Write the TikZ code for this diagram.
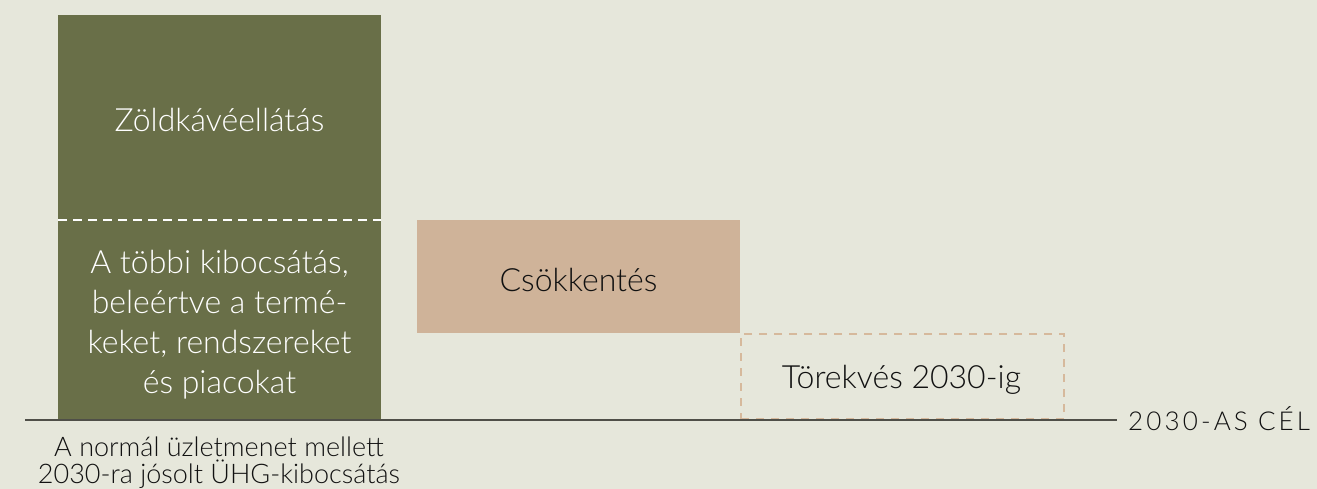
\documentclass[tikz,border=0pt]{standalone}
\usepackage{fontspec}
\setmainfont{Lato}[UprightFont=* Light]
\newfontfamily\spacedfont{Lato}[UprightFont=* Light, LetterSpace=12]
\definecolor{bgc}{HTML}{E6E7DB}
\definecolor{olive}{HTML}{696F48}
\definecolor{tan}{HTML}{CFB399}
\definecolor{tanline}{HTML}{D6B99C}
\definecolor{axis}{HTML}{4F4F48}
\definecolor{ink}{HTML}{111111}
\tikzset{
  bar/.style={rectangle, inner sep=0pt, anchor=north west},
  big/.style={font=\fontsize{32}{40}\selectfont, inner sep=0pt},
  small/.style={font=\fontsize{27}{27}\selectfont, inner sep=0pt, text=ink},
}
\begin{document}
\begin{tikzpicture}[x=1pt,y=-1pt]
\useasboundingbox (0,0) rectangle (1317,489);
\fill[bgc] (0,0) rectangle (1317,489);
% bars
\node[bar, fill=olive, minimum width=323pt, minimum height=405pt] (gbox) at (58,15) {};
\node[bar, fill=tan, minimum width=323pt, minimum height=113pt] (tbox) at (417,220) {};
\node[bar, draw=tanline, line width=2pt, dash pattern=on 8pt off 7pt, minimum width=323pt, minimum height=85pt] (dbox) at (740,333) {};
% divider
\coordinate (dl) at (58,220);
\coordinate (dr) at (381,220);
\draw[white, line width=2pt, dash pattern=on 9pt off 6pt] (dl) -- (dr);
% axis
\coordinate (al) at (25,420);
\coordinate (ar) at (1117,420);
\draw[axis, line width=2.8pt] (al) -- (ar);
% texts
\node[big, text=white, anchor=base] (t1) at (219.5,132) {Zöldkávéellátás};
\node[big, text=white, anchor=base, align=center] (t2) at (219.5,393) {A többi kibocsátás,\\beleértve a termé-\\keket, rendszereket\\és piacokat};
\node[big, text=ink, anchor=base] (t3) at (578.5,291) {Csökkentés};
\node[big, text=ink, anchor=base] (t4) at (901.5,388) {Törekvés 2030-ig};
\node[inner sep=0pt, text=ink, anchor=base west, font=\fontsize{26}{30}\spacedfont] (t5) at (1128,430) {2030-AS CÉL};
\node[small, anchor=base, align=center] (t6) at (219,483) {A normál üzletmenet mellett\\2030-ra jósolt ÜHG-kibocsátás};
\end{tikzpicture}
\end{document}
